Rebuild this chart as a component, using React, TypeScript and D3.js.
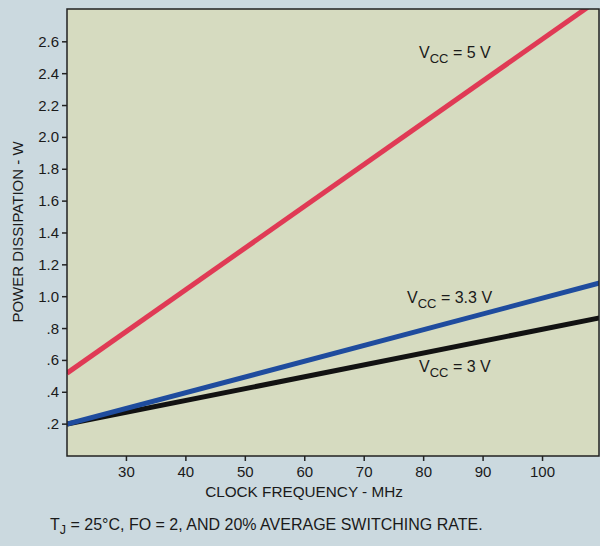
import React from "react";
import * as d3 from "d3";

const freqs = [20, 110];
const vcc5 = [0.52, 2.88];
const vcc33 = [0.2, 1.09];
const vcc3 = [0.2, 0.87];
const yTicks = [0.2, 0.4, 0.6, 0.8, 1.0, 1.2, 1.4, 1.6, 1.8, 2.0, 2.2, 2.4, 2.6];
const yTickLabels = [".2", ".4", ".6", ".8", "1.0", "1.2", "1.4", "1.6", "1.8", "2.0", "2.2", "2.4", "2.6"];
const xTicks = [30, 40, 50, 60, 70, 80, 90, 100];

const W = 600, H = 546;
const L = 67, R = 599, T = 9, B = 456;
const FONT = "'Liberation Sans', Arial, Helvetica, sans-serif";

export default function App() {
  const x = d3.scaleLinear().domain([20, 109.5]).range([L, R]);
  const y = d3.scaleLinear().domain([0, 2.806]).range([B, T]);
  const line = d3
    .line<[number, number]>()
    .x((d) => x(d[0]))
    .y((d) => y(d[1]));
  const mk = (vals: number[]) => freqs.map((f, i) => [f, vals[i]] as [number, number]);
  const series = [
    { vals: vcc3, color: "#121212" },
    { vals: vcc33, color: "#1f4c9e" },
    { vals: vcc5, color: "#e03a55" },
  ];
  return (
    <svg width={W} height={H} style={{ position: "absolute", left: 0, top: 0 }} fontFamily={FONT}>
      <defs>
        <clipPath id="plot">
          <rect x={L} y={T} width={R - L} height={B - T} />
        </clipPath>
      </defs>
      <rect x={0} y={0} width={W} height={H} fill="#cbd9df" />
      <rect x={L} y={T} width={R - L} height={B - T} fill="#d6dbc0" />
      <g clipPath="url(#plot)">
        {series.map((s, i) => (
          <path key={i} d={line(mk(s.vals)) || ""} fill="none" stroke={s.color} strokeWidth={5} />
        ))}
      </g>
      <rect x={L} y={T} width={R - L} height={B - T} fill="none" stroke="#222" strokeWidth={1.5} />
      {yTicks.map((t, i) => (
        <g key={t}>
          <line x1={L - 5} x2={L} y1={y(t)} y2={y(t)} stroke="#222" strokeWidth={1.5} />
          <text x={59} y={y(t) + 5} textAnchor="end" fontSize={15} fill="#1a1a1a">
            {yTickLabels[i]}
          </text>
        </g>
      ))}
      {xTicks.map((t) => (
        <g key={t}>
          <line x1={x(t)} x2={x(t)} y1={B} y2={B + 5} stroke="#222" strokeWidth={1.5} />
          <text x={x(t)} y={477} textAnchor="middle" fontSize={15} fill="#1a1a1a">
            {t}
          </text>
        </g>
      ))}
      <text
        transform={`translate(23,232) rotate(-90)`}
        textAnchor="middle"
        fontSize={15}
        fill="#1a1a1a"
      >
        POWER DISSIPATION - W
      </text>
      <text x={304} y={497} textAnchor="middle" fontSize={15.3} fill="#1a1a1a">
        CLOCK FREQUENCY - MHz
      </text>
      <text x={50} y={530} fontSize={16} fill="#1a1a1a">
        T<tspan fontSize={12.5} dy={4}>J</tspan>
        <tspan dy={-4}> = 25°C, FO = 2, AND 20% AVERAGE SWITCHING RATE.</tspan>
      </text>
      <text x={419} y={58} fontSize={16} fill="#1a1a1a">
        V<tspan fontSize={13} dy={5}>CC</tspan>
        <tspan dy={-5}> = 5 V</tspan>
      </text>
      <text x={407} y={303} fontSize={16} fill="#1a1a1a">
        V<tspan fontSize={13} dy={5}>CC</tspan>
        <tspan dy={-5}> = 3.3 V</tspan>
      </text>
      <text x={419} y={372} fontSize={16} fill="#1a1a1a">
        V<tspan fontSize={13} dy={5}>CC</tspan>
        <tspan dy={-5}> = 3 V</tspan>
      </text>
    </svg>
  );
}
